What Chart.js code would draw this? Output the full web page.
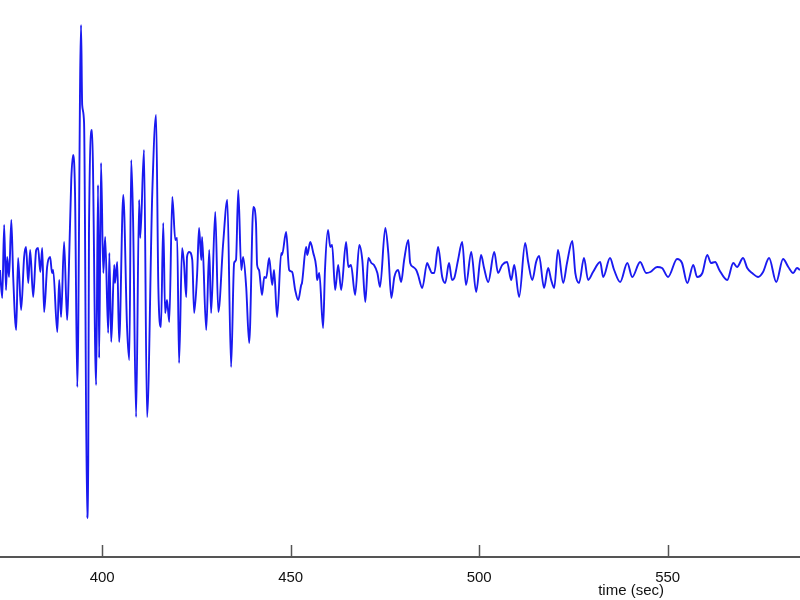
<!DOCTYPE html>
<html>
<head>
<meta charset="utf-8">
<script src="https://cdn.jsdelivr.net/npm/chart.js@4.4.0/dist/chart.umd.min.js"></script>
<style>
  html, body { margin: 0; padding: 0; background: #fff; overflow: hidden; }
  #seismo { display: block; }
</style>
</head>
<body>
<canvas id="seismo" width="800" height="600"></canvas>
<script>
// seismogram trace: time (s) and ground motion (arbitrary counts)
const timeSec = [
  372.9, 373.5, 374.0, 374.5, 374.8, 375.3, 375.9, 376.4, 377.2, 377.7, 378.5, 379.3, 379.8, 380.4, 380.9,
  381.7, 382.5, 383.0, 383.6, 384.1, 384.6, 385.4, 386.2, 386.7, 387.0, 388.1, 388.6, 389.1, 389.9, 390.7,
  391.0, 391.8, 392.3, 392.8, 393.4, 394.4, 394.7, 395.2, 396.0, 396.3, 396.5, 397.3, 398.4, 398.9, 399.2,
  399.7, 400.3, 400.8, 401.6, 401.9, 402.4, 403.2, 403.4, 404.0, 404.5, 405.6, 406.6, 407.2, 407.7, 408.2,
  409.0, 409.8, 410.1, 411.1, 411.9, 413.3, 414.3, 414.9, 415.6, 416.2, 416.7, 417.2, 417.8, 418.6, 419.4,
  419.9, 420.4, 421.2, 421.7, 422.3, 422.5, 423.1, 423.9, 424.4, 425.2, 425.7, 426.3, 426.5, 427.6, 428.4,
  428.9, 430.0, 430.8, 432.1, 433.2, 434.2, 435.0, 435.5, 436.1, 436.9, 437.4, 438.2, 439.0, 440.1, 440.8,
  441.1, 441.6, 442.4, 443.0, 443.5, 444.3, 445.1, 445.6, 446.4, 447.5, 447.7, 448.8, 449.6, 450.4, 451.2,
  452.0, 452.8, 453.0, 454.1, 454.4, 455.2, 456.0, 456.8, 457.0, 457.6, 458.6, 459.1, 459.9, 460.5, 461.0,
  461.8, 462.6, 463.4, 464.7, 465.3, 466.0, 467.1, 468.2, 469.0, 469.8, 470.6, 471.4, 472.1, 473.0, 473.7,
  475.1, 475.9, 476.7, 477.5, 478.5, 479.3, 480.1, 481.2, 481.7, 482.5, 483.3, 483.8, 484.9, 486.2, 486.7,
  487.5, 488.1, 489.1, 490.2, 491.0, 492.0, 492.8, 493.4, 494.4, 495.5, 496.5, 497.9, 499.2, 500.5, 501.3,
  502.4, 504.0, 505.0, 506.1, 507.4, 508.5, 509.3, 510.6, 512.2, 513.0, 514.1, 515.1, 515.9, 517.2, 518.3,
  519.1, 519.9, 520.9, 522.3, 523.3, 524.7, 525.5, 526.5, 527.8, 528.9, 530.2, 532.1, 532.9, 534.7, 535.8,
  537.4, 539.3, 540.6, 542.7, 544.3, 545.4, 547.2, 548.5, 550.1, 552.5, 553.8, 555.2, 556.8, 557.8, 559.2,
  560.5, 561.5, 562.6, 563.7, 565.8, 567.4, 568.4, 570.0, 571.1, 572.4, 574.0, 575.3, 576.9, 578.8, 580.6,
  582.0, 583.3, 584.3, 585.1
];
const amplitude = [
  -2, -30, 43, -22, 11, -9, 48, -9, -62, 10, -42, 11, 21, -15, 18,
  -29, 18, 20, -4, 20, -44, 1, 11, -5, -2, -64, -12, -49, 26, -52,
  -25, 88, 113, 75, -119, 243, 163, 145, -250, -195, 35, 138, -117, 83, -90,
  105, -5, 31, -65, 15, -74, 3, -15, 6, -74, 73, -59, -92, 108, 48,
  -149, 68, 30, 118, -149, 76, 153, -19, -59, 45, -45, -32, -54, 71, 28,
  30, -95, 20, 5, -29, 11, 16, 8, -45, -5, 40, 8, 31, -62, 18,
  -45, 56, -44, 25, 68, -99, 5, 8, 78, -2, 11, -19, -75, 61, 45,
  3, -2, -27, -9, -10, 10, -17, -2, -49, 15, 13, 36, -2, -4, -22,
  -32, -17, -15, 21, 13, 26, 15, 0, -12, -5, -60, -2, 38, 21, 23,
  -22, 3, -22, 26, 1, 3, -27, 23, 8, -34, 10, 5, 3, -5, -19,
  40, 15, -30, -9, -2, -14, 8, 28, 5, 1, -2, -7, -20, 5, 1,
  -5, -5, 21, -9, -15, 5, -12, -10, 8, 26, -17, 16, -24, 13, 0,
  -14, 16, -5, 3, 6, -12, 3, -29, 25, 6, -12, 6, 12, -20, 0,
  -12, -20, 18, -15, 5, 27, -5, -15, 10, -12, -4, 6, -9, 10, -2,
  -14, 5, -9, 6, -5, -4, 1, 0, -9, 9, 5, -15, 3, -9, -5,
  13, 5, 6, -2, -12, 5, 1, 10, 0, -5, -9, -4, 10, -14, 9,
  1, -5, 0, -2
];

const tickValues = [400, 450, 500, 550];
const xRange = [372.9, 585.1];
const yRange = [-289, 268];
const xTitle = 'time (sec)';
const xTitleAt = 540.3;

const traceColor = '#1a1af0';
const axisColor = '#555555';
const labelFont = { family: "'Liberation Sans', Arial, sans-serif", size: 15 };

// MATLAB-style ticks pointing into the plot, plus the off-centre axis label
const axisExtras = {
  id: 'axisExtras',
  afterDraw(chart) {
    const { ctx, chartArea } = chart;
    const xs = chart.scales.x;
    ctx.save();
    ctx.strokeStyle = axisColor;
    ctx.lineWidth = 1.5;
    xs.ticks.forEach(t => {
      const px = Math.round(xs.getPixelForValue(t.value)) + 0.5;
      ctx.beginPath();
      ctx.moveTo(px, chartArea.bottom);
      ctx.lineTo(px, chartArea.bottom - 12);
      ctx.stroke();
    });
    ctx.fillStyle = '#111';
    ctx.font = `${labelFont.size}px ${labelFont.family}`;
    ctx.textAlign = 'center';
    ctx.textBaseline = 'middle';
    ctx.fillText(xTitle, xs.getPixelForValue(xTitleAt), 591);
    ctx.restore();
  }
};

new Chart(document.getElementById('seismo').getContext('2d'), {
  type: 'line',
  data: {
    datasets: [{
      data: timeSec.map((t, i) => ({ x: t, y: amplitude[i] })),
      borderColor: traceColor,
      borderWidth: 1.9,
      pointRadius: 0,
      cubicInterpolationMode: 'monotone',
      fill: false
    }]
  },
  options: {
    responsive: false,
    animation: false,
    layout: { padding: 0 },
    plugins: {
      legend: { display: false },
      tooltip: { enabled: false }
    },
    scales: {
      x: {
        type: 'linear',
        min: xRange[0],
        max: xRange[1],
        afterBuildTicks: s => { s.ticks = tickValues.map(v => ({ value: v })); },
        afterFit: s => { s.height = 43; },
        grid: { display: false, drawTicks: false },
        border: { display: true, color: axisColor, width: 2 },
        ticks: { padding: 12, color: '#111', font: labelFont, maxRotation: 0 }
      },
      y: { display: false, min: yRange[0], max: yRange[1] }
    }
  },
  plugins: [axisExtras]
});
</script>
</body>
</html>
